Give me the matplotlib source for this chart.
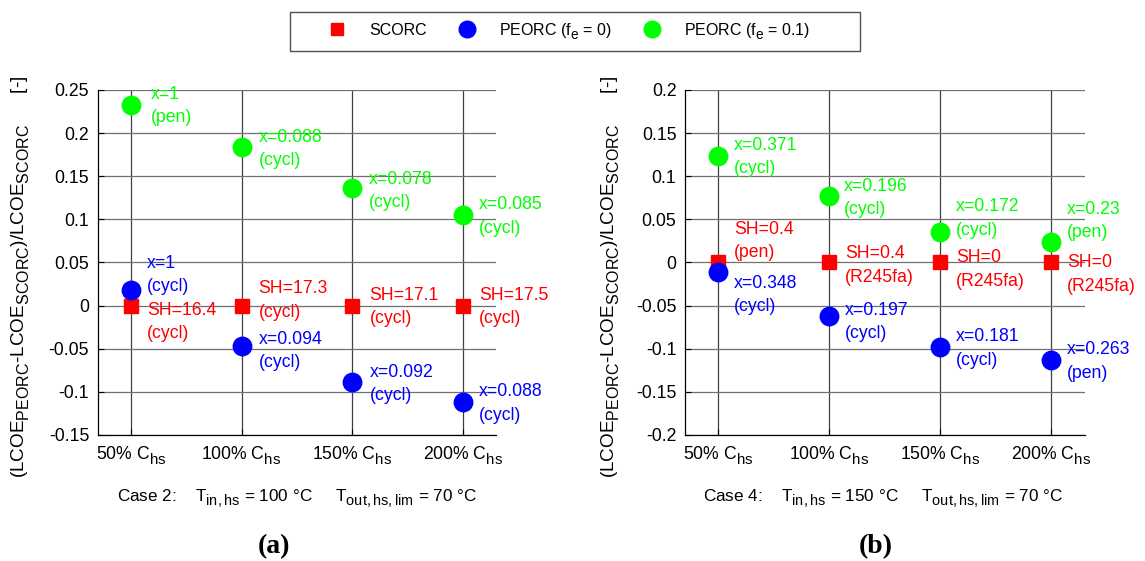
import matplotlib
matplotlib.use('Agg')
import matplotlib.pyplot as plt
from matplotlib.patches import Rectangle
import matplotlib._mathtext as _mt

# MATLAB-like subscripts: larger and lower than mathtext defaults
_mt.SHRINK_FACTOR = 0.85
_mt.FontConstantsBase.sub1 = 0.55
_mt.FontConstantsBase.sub2 = 0.7

plt.rcParams['font.family'] = ['Liberation Sans', 'DejaVu Sans']
plt.rcParams['mathtext.fontset'] = 'custom'
plt.rcParams['mathtext.rm'] = 'Liberation Sans'
plt.rcParams['mathtext.it'] = 'Liberation Sans:italic'
plt.rcParams['mathtext.bf'] = 'Liberation Sans:bold'
plt.rcParams['mathtext.default'] = 'regular'

# ---------------- data ----------------
categories = ['50% C$_{hs}$', '100% C$_{hs}$', '150% C$_{hs}$', '200% C$_{hs}$']
series_names = ['SCORC', 'PEORC (f$_{e}$ = 0)', 'PEORC (f$_{e}$ = 0.1)']

case2_scorc = [0.0, 0.0, 0.0, 0.0]
case2_peorc_fe0 = [0.018, -0.047, -0.089, -0.112]
case2_peorc_fe01 = [0.233, 0.184, 0.136, 0.105]

case4_scorc = [0.0, 0.0, 0.0, 0.0]
case4_peorc_fe0 = [-0.011, -0.062, -0.098, -0.113]
case4_peorc_fe01 = [0.124, 0.077, 0.035, 0.024]

case2_scorc_labels = ['SH=16.4\n(cycl)', 'SH=17.3\n(cycl)', 'SH=17.1\n(cycl)', 'SH=17.5\n(cycl)']
case2_fe0_labels = ['x=1\n(cycl)', 'x=0.094\n(cycl)', 'x=0.092\n(cycl)', 'x=0.088\n(cycl)']
case2_fe01_labels = ['x=1\n(pen)', 'x=0.088\n(cycl)', 'x=0.078\n(cycl)', 'x=0.085\n(cycl)']

case4_scorc_labels = ['SH=0.4\n(pen)', 'SH=0.4\n(R245fa)', 'SH=0\n(R245fa)', 'SH=0\n(R245fa)']
case4_fe0_labels = ['x=0.348\n(cycl)', 'x=0.197\n(cycl)', 'x=0.181\n(cycl)', 'x=0.263\n(pen)']
case4_fe01_labels = ['x=0.371\n(cycl)', 'x=0.196\n(cycl)', 'x=0.172\n(cycl)', 'x=0.23\n(pen)']

case2_yticks = [-0.15, -0.1, -0.05, 0, 0.05, 0.1, 0.15, 0.2, 0.25]
case4_yticks = [-0.2, -0.15, -0.1, -0.05, 0, 0.05, 0.1, 0.15, 0.2]

case2_title = 'Case 2:    T$_{in,hs}$ = 100 °C     T$_{out,hs,lim}$ = 70 °C'
case4_title = 'Case 4:    T$_{in,hs}$ = 150 °C     T$_{out,hs,lim}$ = 70 °C'
ylabel_text = '(LCOE$_{PEORC}$-LCOE$_{SCORC}$)/LCOE$_{SCORC}$      [-]'

# ---------------- layout / style (pixel offsets of annotations) ----------------
RED, BLUE, GREEN = '#ff0000', '#0000ff', '#00ff00'
case2_offsets = {
    'scorc': [(16, -16.5), (17, 5), (17, -1.5), (16, -1.5)],
    'fe0': [(16, 15), (17, -5), (17, -1.5), (16, -1.5)],
    'fe01': [(20, -1.5), (17, -2), (16, -2.5), (16, -1.5)],
}
case4_offsets = {
    'scorc': [(16, 21.6), (16, -3), (16, -7), (16, -12)],
    'fe0': [(16, -23), (16, -6), (16, -1.3), (16, -1.7)],
    'fe01': [(16, -1.6), (15, -1.7), (16, 14), (16, 21)],
}

FS = 12.7

fig = plt.figure(figsize=(11.45, 5.61), dpi=100)
ax1 = fig.add_axes([0.0852, 0.2246, 0.3484, 0.6150])
ax2 = fig.add_axes([0.5981, 0.2246, 0.3491, 0.6150])


def draw_panel(ax, scorc, fe0, fe01, lab_s, lab_0, lab_1, offs, yticks, lab_xy):
    x = list(range(1, len(categories) + 1))
    h_s, = ax.plot(x, scorc, linestyle='none', marker='s', ms=10, color=RED,
                   mec=RED, zorder=3, label=series_names[0])
    h_0, = ax.plot(x, fe0, linestyle='none', marker='o', ms=13.3, color=BLUE,
                   mec=BLUE, zorder=4, label=series_names[1])
    h_1, = ax.plot(x, fe01, linestyle='none', marker='o', ms=13.3, color=GREEN,
                   mec=GREEN, zorder=4, label=series_names[2])
    for vals, labs, key, col in [(scorc, lab_s, 'scorc', RED),
                                 (fe0, lab_0, 'fe0', BLUE),
                                 (fe01, lab_1, 'fe01', GREEN)]:
        for xi, yi, lb, (dx, dy) in zip(x, vals, labs, offs[key]):
            ax.annotate(lb, xy=(xi, yi), xytext=(dx, dy), textcoords='offset pixels',
                        ha='left', va='center', color=col, fontsize=FS,
                        linespacing=1.5, zorder=5, annotation_clip=False)
    ax.set_xlim(0.7, 4.3)
    ax.set_ylim(yticks[0], yticks[-1])
    ax.set_xticks(x)
    ax.set_xticklabels(categories, fontsize=FS)
    ax.set_yticks(yticks)
    ax.set_yticklabels(['{:g}'.format(v) for v in yticks], fontsize=FS)
    ax.tick_params(axis='both', direction='in', length=4, width=0.8, color='black')
    ax.tick_params(axis='y', pad=6)
    ax.tick_params(axis='x', pad=7)
    ax.spines['top'].set_visible(False)
    ax.spines['right'].set_visible(False)
    for s in ('left', 'bottom'):
        ax.spines[s].set_color('black')
        ax.spines[s].set_linewidth(0.9)
    ax.set_axisbelow(True)
    ax.xaxis.grid(True, color='#404040', linewidth=0.9)
    ax.yaxis.grid(True, color='#707070', linewidth=0.9)
    ax.set_ylabel(ylabel_text, fontsize=13.6, va='center')
    ax.yaxis.set_label_coords(*lab_xy)
    return [h_s, h_0, h_1]


handles = draw_panel(ax1, case2_scorc, case2_peorc_fe0, case2_peorc_fe01,
                     case2_scorc_labels, case2_fe0_labels, case2_fe01_labels,
                     case2_offsets, case2_yticks, (-0.192, 0.457))
draw_panel(ax2, case4_scorc, case4_peorc_fe0, case4_peorc_fe01,
           case4_scorc_labels, case4_fe0_labels, case4_fe01_labels,
           case4_offsets, case4_yticks, (-0.185, 0.459))

# legend
fig.legend(handles, series_names, loc='center', bbox_to_anchor=(0.494, 0.944),
           ncol=3, frameon=False, fontsize=11.5, handlelength=2.0,
           handletextpad=1.0, columnspacing=1.5, markerscale=0.9, borderpad=0)
fig.patches.append(Rectangle((290 / 1145, 1 - 51 / 561), (860 - 290) / 1145, 39 / 561,
                             transform=fig.transFigure, fill=False,
                             edgecolor='#505050', linewidth=1.0))

fig.text(296.7 / 1145, 1 - 499 / 561, case2_title, ha='center', va='center', fontsize=12.3)
fig.text(883.0 / 1145, 1 - 499 / 561, case4_title, ha='center', va='center', fontsize=12.3)
fig.text(274 / 1145, 1 - 546.7 / 561, '(a)', ha='center', va='center', fontsize=20,
         fontweight='bold', family='Liberation Serif')
fig.text(875.3 / 1145, 1 - 546.7 / 561, '(b)', ha='center', va='center', fontsize=20,
         fontweight='bold', family='Liberation Serif')

fig.savefig('out.png', dpi=100, facecolor='white')
